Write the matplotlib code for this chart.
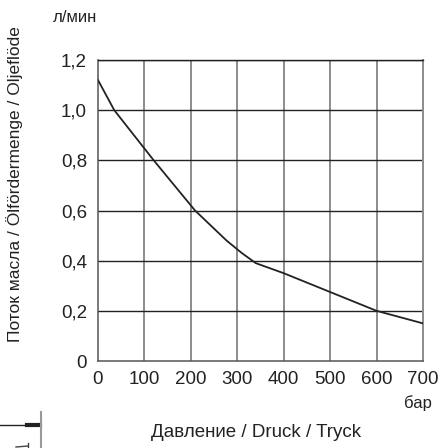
import matplotlib
matplotlib.use("Agg")
import matplotlib.pyplot as plt
from matplotlib.lines import Line2D

plt.rcParams['font.family'] = ['Liberation Sans', 'DejaVu Sans']

# pressure (bar) vs oil flow (l/min)
pressure = [0, 35, 120, 209, 277, 310, 340, 400, 500, 600, 700]
flow = [1.12, 1.0, 0.80, 0.60, 0.48, 0.43, 0.39, 0.35, 0.275, 0.20, 0.15]

x_ticks = [0, 100, 200, 300, 400, 500, 600, 700]
y_ticks = [0, 0.2, 0.4, 0.6, 0.8, 1.0, 1.2]
y_labels = ["0", "0,2", "0,4", "0,6", "0,8", "1,0", "1,2"]

W, H = 439, 448
fig = plt.figure(figsize=(W / 100, H / 100), dpi=100)
ax = fig.add_axes([98 / W, 1 - 361 / H, 325 / W, 301 / H])

ax.set_xlim(0, 700)
ax.set_ylim(0, 1.2)
ax.set_xticks(x_ticks)
ax.set_yticks(y_ticks)
ax.set_yticklabels(y_labels)
ax.tick_params(length=0, labelsize=13.5, colors='#222222')
ax.tick_params(axis='y', pad=8)
ax.tick_params(axis='x', pad=7)

for x in x_ticks[1:]:
	ax.axvline(x, color='#8c8c8c', lw=1.4, zorder=1)
for y in y_ticks[1:]:
	ax.axhline(y, color='#222222', lw=1.0, zorder=2)

for s in ['left', 'bottom']:
	ax.spines[s].set_color('#555555')
	ax.spines[s].set_linewidth(1.1)
ax.spines['top'].set_color('#222222')
ax.spines['top'].set_linewidth(1.0)
ax.spines['right'].set_color('#8c8c8c')
ax.spines['right'].set_linewidth(1.4)

ax.plot(pressure, flow, color='#222222', lw=1.3, zorder=3)

fig.text(53 / W, 1 - 18 / H, "л/мин", fontsize=12, color='#222222', va='center', ha='left')
fig.text(418 / W, 1 - 403 / H, "бар", fontsize=12, color='#222222', va='center', ha='center')
fig.text(256 / W, 1 - 432 / H, "Давление / Druck / Tryck", fontsize=13.5, color='#222222',
	va='center', ha='center')
fig.text(15 / W, 1 - 184 / H, "Поток масла / Ölfördermenge / Oljeflöde", fontsize=12.5,
	color='#222222', va='center', ha='center', rotation=90)

# fragment of a neighbouring drawing at the bottom left
fig.add_artist(Line2D([0, 36 / W], [1 - 425 / H, 1 - 425 / H], color='#222222', lw=1))
fig.add_artist(Line2D([27 / W, 40 / W], [1 - 425 / H, 1 - 425 / H], color='#222222', lw=3))
fig.add_artist(Line2D([41 / W, 41 / W], [1 - 412 / H, 0], color='#999999', lw=1.5))
fig.add_artist(Line2D([28 / W, 28 / W], [1 - 443 / H, 0], color='#444444', lw=1))
fig.add_artist(Line2D([16 / W, 28 / W], [1 - 447 / H, 1 - 446 / H], color='#444444', lw=1))

fig.savefig("out.png", dpi=100)
